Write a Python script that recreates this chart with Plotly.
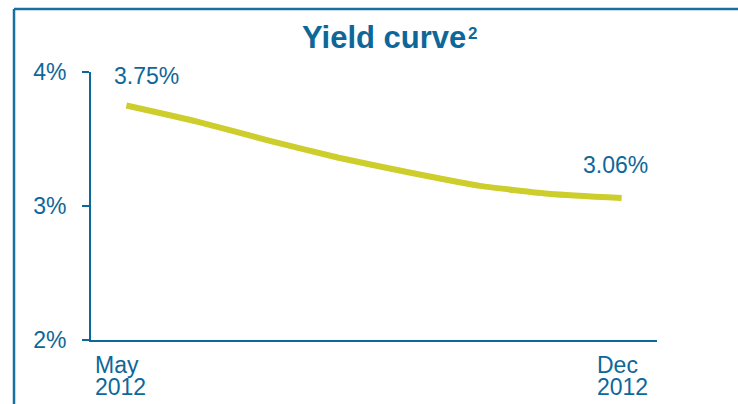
import plotly.graph_objects as go

# Data
months = ["May", "Jun", "Jul", "Aug", "Sep", "Oct", "Nov", "Dec"]
yields = [3.75, 3.63, 3.49, 3.36, 3.25, 3.15, 3.09, 3.06]
y_ticks = [2, 3, 4]
y_tick_labels = ["2%", "3%", "4%"]
x_label_idx = [0, 7]
x_label_lines = [["May", "2012"], ["Dec", "2012"]]
title_text = "Yield curve"
title_sup = "2"

BLUE = "#0E6799"
YELLOW = "#CDCD2B"
FONT = "Liberation Sans, Arial, sans-serif"

xs = list(range(len(months)))

fig = go.Figure()
fig.add_trace(go.Scatter(
    x=xs, y=yields, mode="lines",
    line=dict(color=YELLOW, width=6, shape="spline", smoothing=0.5),
    hoverinfo="skip", showlegend=False,
))

W, H = 738, 404
L, R, T, B = 91, 81, 72, 64
pw, ph = W - L - R, H - T - B

def px(xp):
    return (xp - L) / pw

def py(yp):
    return (H - B - yp) / ph

annotations = []
# title
annotations.append(dict(
    text=title_text, xref="paper", yref="paper", x=px(383.5), y=py(37.5),
    xanchor="center", yanchor="middle", showarrow=False,
    font=dict(family=FONT, size=31, color=BLUE, weight="bold"),
))
annotations.append(dict(
    text=title_sup, xref="paper", yref="paper", x=px(472.5), y=py(33),
    xanchor="center", yanchor="middle", showarrow=False,
    font=dict(family=FONT, size=17, color=BLUE, weight="bold"),
))
# data labels at first and last point
for i, dx, dy in [(0, 20, 29.5), (len(yields) - 1, -6, 32.5)]:
    annotations.append(dict(
        text=f"{yields[i]:.2f}%", x=xs[i], y=yields[i], xref="x", yref="y",
        xshift=dx, yshift=dy, xanchor="center", yanchor="middle",
        showarrow=False, font=dict(family=FONT, size=23, color=BLUE),
    ))
# x labels (two tight lines)
xoff = {0: -33, 7: -27}
for idx, lines in zip(x_label_idx, x_label_lines):
    for k, line in enumerate(lines):
        annotations.append(dict(
            text=line, x=idx, xref="x", yref="paper", y=py(364.5 + 22 * k),
            xshift=xoff[idx], xanchor="left", yanchor="middle",
            showarrow=False, font=dict(family=FONT, size=23, color=BLUE),
        ))

shapes = [
    dict(type="line", xref="paper", yref="paper", x0=px(14), x1=px(14),
         y0=py(9), y1=py(410), line=dict(color="#1A6FA0", width=2.5)),
    dict(type="line", xref="paper", yref="paper", x0=px(14), x1=px(745),
         y0=py(9), y1=py(9), line=dict(color="#1A6FA0", width=2.5)),
]

fig.update_layout(
    width=W, height=H, autosize=False,
    margin=dict(l=L, r=R, t=T, b=B, pad=0),
    paper_bgcolor="white", plot_bgcolor="white",
    font=dict(family=FONT, color=BLUE, size=23),
    annotations=annotations, shapes=shapes,
    xaxis=dict(range=[-0.5, 7.5], showgrid=False, zeroline=False,
               showline=True, linecolor=BLUE, linewidth=2,
               showticklabels=False, ticks=""),
    yaxis=dict(range=[2, 4], tickvals=y_ticks, ticktext=y_tick_labels,
               showgrid=False, zeroline=False, showline=True,
               linecolor=BLUE, linewidth=2, ticks="outside", ticklen=7,
               tickwidth=2, tickcolor=BLUE, ticklabelstandoff=11,
               tickfont=dict(family=FONT, size=23, color=BLUE)),
    showlegend=False,
)

fig.write_html("out.html")
